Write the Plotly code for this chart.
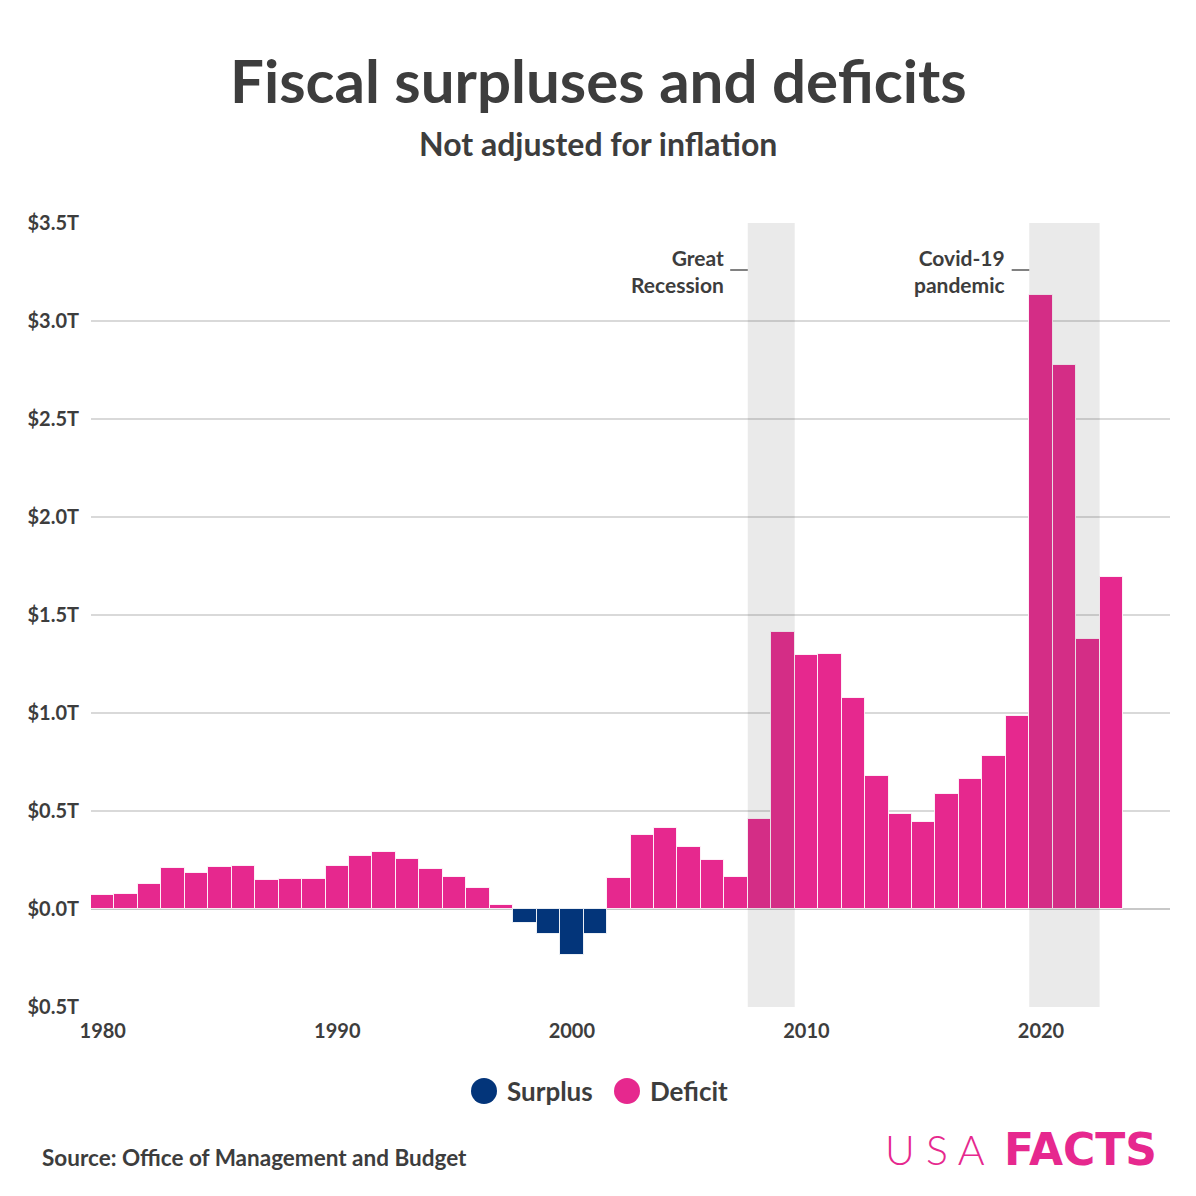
import plotly.graph_objects as go

years = list(range(1980, 2024))
balance = [0.074, 0.079, 0.128, 0.208, 0.185, 0.212, 0.221, 0.150, 0.155, 0.153,
           0.221, 0.269, 0.290, 0.255, 0.203, 0.164, 0.107, 0.022, -0.069, -0.126,
           -0.236, -0.128, 0.158, 0.378, 0.413, 0.318, 0.248, 0.161, 0.459, 1.413,
           1.294, 1.300, 1.077, 0.680, 0.485, 0.442, 0.585, 0.665, 0.779, 0.984,
           3.132, 2.775, 1.376, 1.695]
y_ticks = [-0.5, 0.0, 0.5, 1.0, 1.5, 2.0, 2.5, 3.0, 3.5]
y_tick_labels = ["$0.5T", "$0.0T", "$0.5T", "$1.0T", "$1.5T", "$2.0T", "$2.5T", "$3.0T", "$3.5T"]
x_ticks = [1980, 1990, 2000, 2010, 2020]
periods = [("Great<br>Recession", 2008, 2009), ("Covid-19<br>pandemic", 2020, 2022)]

PINK = "#E6288E"
NAVY = "#03357A"
TXT = "#3d3d3d"
FONT = "Lato"

OFF = 8  # page body margin
W, H = 1196 - OFF, 1196 - OFF
L, R, T, B = 91, 1170, 223, 1007

def px(x):
    return (x - L) / (R - L)

def py(y):
    return (B - y) / (B - T)

colors = [NAVY if v < 0 else PINK for v in balance]

fig = go.Figure()
fig.add_trace(go.Bar(
    x=years, y=balance, marker=dict(color=colors, line=dict(color="rgba(255,255,255,0.85)", width=1)),
    showlegend=False, hoverinfo="x+y"))

shapes = []
annotations = []
for label, a, b in periods:
    shapes.append(dict(type="rect", xref="x", yref="paper", x0=a - 0.5, x1=b + 0.5, y0=0, y1=1,
                       fillcolor="rgba(80,80,80,0.12)", line=dict(width=0), layer="above"))
    shapes.append(dict(type="line", xref="x", yref="paper", x0=a - 0.5 - 0.75, x1=a - 0.5,
                       y0=py(270), y1=py(270), line=dict(color=TXT, width=1.3)))
    annotations.append(dict(xref="x", yref="paper", x=a - 0.5 - 0.95, y=py(271), text="<b>" + label + "</b>",
                            showarrow=False, xanchor="right", yanchor="middle", align="right",
                            font=dict(family=FONT, size=21, color=TXT)))

annotations.append(dict(xref="paper", yref="paper", x=px(598), y=py(80), text="<b>Fiscal surpluses and deficits</b>",
                        showarrow=False, xanchor="center", yanchor="middle",
                        font=dict(family=FONT, size=60, color=TXT)))
annotations.append(dict(xref="paper", yref="paper", x=px(598), y=py(143), text="<b>Not adjusted for inflation</b>",
                        showarrow=False, xanchor="center", yanchor="middle",
                        font=dict(family=FONT, size=32, color=TXT)))

for name, col, cx in [("Surplus", NAVY, 484), ("Deficit", PINK, 627)]:
    r = 13
    shapes.append(dict(type="circle", xref="paper", yref="paper",
                       x0=px(cx - r), x1=px(cx + r), y0=py(1091 + r), y1=py(1091 - r),
                       fillcolor=col, line=dict(width=0)))
    annotations.append(dict(xref="paper", yref="paper", x=px(cx + r + 8), y=py(1091), text="<b>" + name + "</b>",
                            showarrow=False, xanchor="left", yanchor="middle",
                            font=dict(family=FONT, size=26, color=TXT)))

annotations.append(dict(xref="paper", yref="paper", x=px(40), y=py(1157), text="<b>Source: Office of Management and Budget</b>",
                        showarrow=False, xanchor="left", yanchor="middle",
                        font=dict(family=FONT, size=22.5, color=TXT)))
annotations.append(dict(xref="paper", yref="paper", x=px(987), y=py(1149), text="U S A",
                        showarrow=False, xanchor="right", yanchor="middle",
                        font=dict(family=FONT, size=41, color=PINK, weight=300)))
annotations.append(dict(xref="paper", yref="paper", x=px(1159), y=py(1149), text="<b>FACTS</b>",
                        showarrow=False, xanchor="right", yanchor="middle",
                        font=dict(family="DejaVu Sans", size=44, color=PINK)))

fig.update_layout(
    width=W, height=H,
    margin=dict(l=L - OFF, r=W - (R - OFF), t=T - OFF, b=H - (B - OFF), pad=0),
    paper_bgcolor="white", plot_bgcolor="white",
    bargap=0,
    shapes=shapes, annotations=annotations,
    xaxis=dict(range=[1979.5, 2025.5], tickvals=x_ticks, ticktext=["<b>%d</b>" % t for t in x_ticks],
               tickfont=dict(family=FONT, size=20, color=TXT), showgrid=False, zeroline=False,
               ticks="", ticklen=0, showline=False, ticklabelstandoff=10),
    yaxis=dict(range=[-0.5, 3.5], tickvals=y_ticks, ticktext=["<b>%s</b>" % t for t in y_tick_labels],
               tickfont=dict(family=FONT, size=20, color=TXT), showgrid=True, gridcolor="#d9d9d9",
               gridwidth=1.5, zeroline=True, zerolinecolor="#c8c8c8", zerolinewidth=2, ticks="",
               ticklabelstandoff=11, showline=False),
    font=dict(family=FONT, color=TXT),
)

fig.write_html("out.html")
